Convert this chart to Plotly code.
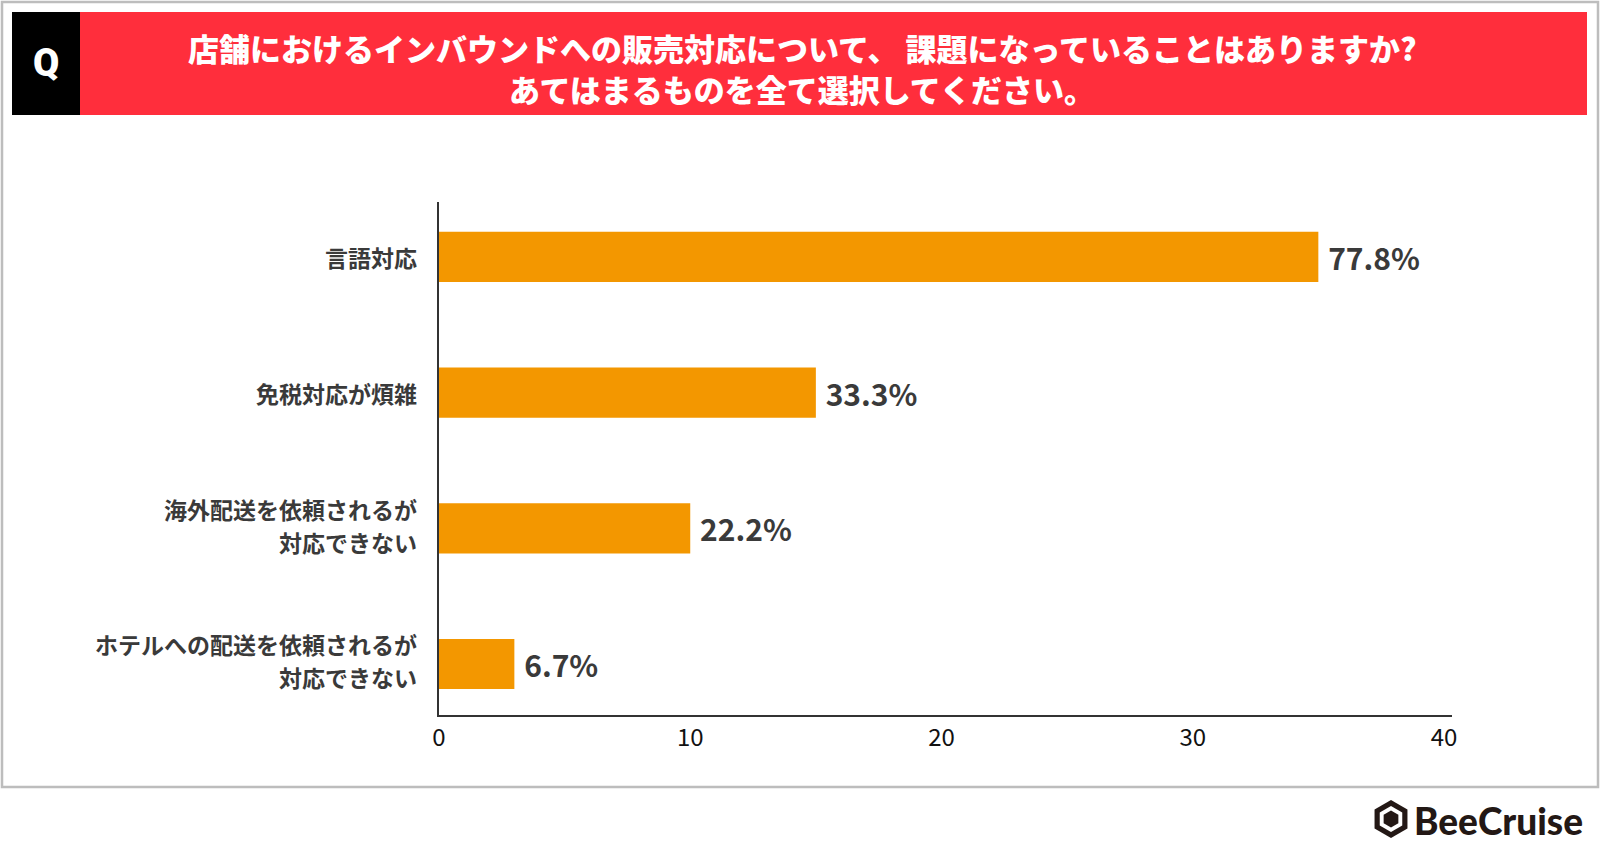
import math
import plotly.graph_objects as go

# ---- data ----
categories = [
    "言語対応",
    "免税対応が煩雑",
    "海外配送を依頼されるが<br>対応できない",
    "ホテルへの配送を依頼されるが<br>対応できない",
]
counts = [35, 15, 10, 3]
pct_labels = ["77.8%", "33.3%", "22.2%", "6.7%"]
x_ticks = [0, 10, 20, 30, 40]

title_lines = [
    "店舗におけるインバウンドへの販売対応について、 課題になっていることはありますか?",
    "あてはまるものを全て選択してください。",
]

# ---- layout geometry (pixels) ----
FW, FH = 1600, 853
L, R, T, B = 439, 1452, 202, 715
PW, PH = R - L, B - T

def px(x):
    return (x - L) / PW

def py(y):
    return (B - y) / PH

FONT = "Noto Sans CJK JP"
ORANGE = "#F39700"

fig = go.Figure()
fig.add_trace(go.Bar(
    y=categories,
    x=counts,
    orientation="h",
    marker=dict(color=ORANGE, line=dict(width=0)),
    width=0.37,
    text=[" " + t for t in pct_labels],
    textposition="outside",
    constraintext="none",
    cliponaxis=False,
    textfont=dict(family=FONT, size=30, color="#3a3a3a", weight=700),
    hoverinfo="skip",
))

shapes = []
shapes.append(dict(type="rect", xref="paper", yref="paper",
                   x0=px(2), x1=px(1598), y0=py(787), y1=py(2),
                   line=dict(color="#BDBDBD", width=2.5), fillcolor="rgba(0,0,0,0)", layer="below"))
shapes.append(dict(type="rect", xref="paper", yref="paper",
                   x0=px(80), x1=px(1587), y0=py(115), y1=py(12),
                   line=dict(width=0), fillcolor="#FF2E3C", layer="below"))
shapes.append(dict(type="rect", xref="paper", yref="paper",
                   x0=px(12), x1=px(80), y0=py(115), y1=py(12),
                   line=dict(width=0), fillcolor="#000000", layer="below"))

def hexpath(cx, cy, r):
    pts = []
    for k in range(6):
        a = math.radians(90 + 60 * k)
        pts.append((px(cx + r * math.cos(a)), py(cy - r * math.sin(a))))
    return "M " + " L ".join(f"{a:.5f},{b:.5f}" for a, b in pts) + " Z"

cx, cy = 1391, 819
shapes.append(dict(type="path", xref="paper", yref="paper", path=hexpath(cx, cy, 19),
                   fillcolor="#231815", line=dict(width=0)))
shapes.append(dict(type="path", xref="paper", yref="paper", path=hexpath(cx, cy, 13),
                   fillcolor="#FFFFFF", line=dict(width=0)))
shapes.append(dict(type="path", xref="paper", yref="paper", path=hexpath(cx, cy, 8.5),
                   fillcolor="#231815", line=dict(width=0)))

annotations = []
for i, line in enumerate(title_lines):
    annotations.append(dict(text=line, xref="paper", yref="paper", x=px(802), y=py(48 + 41 * i),
                            xanchor="center", yanchor="middle", showarrow=False,
                            font=dict(family=FONT, size=31, color="#FFFFFF", weight=900)))
annotations.append(dict(text="Q", xref="paper", yref="paper", x=px(46), y=py(63),
                        xanchor="center", yanchor="middle", showarrow=False,
                        font=dict(family="Roboto", size=38, color="#FFFFFF", weight=900)))
annotations.append(dict(text="BeeCruise", xref="paper", yref="paper", x=px(1412), y=py(820),
                        xanchor="left", yanchor="middle", showarrow=False,
                        font=dict(family="Lato", size=37, color="#231815", weight=900)))

# category labels (one annotation per line, anchored to the category)
for cat in categories:
    parts = cat.split("<br>")
    shifts = [-0.5] if len(parts) == 1 else [19.5, -13.5]
    for part, s in zip(parts, shifts):
        annotations.append(dict(text=part, xref="paper", yref="y", x=px(419), y=cat,
                                xanchor="right", yanchor="middle", yshift=s, showarrow=False,
                                font=dict(family=FONT, size=23, color="#3a3a3a", weight=700)))

fig.update_layout(
    width=FW, height=FH,
    margin=dict(l=L, r=FW - R, t=T, b=FH - B, pad=0),
    paper_bgcolor="white", plot_bgcolor="white",
    showlegend=False,
    shapes=shapes,
    annotations=annotations,
    xaxis=dict(
        range=[0, 40.32],
        tickvals=x_ticks,
        ticktext=[str(v) for v in x_ticks],
        showgrid=False, zeroline=False,
        showline=True, linecolor="#333333", linewidth=2,
        ticks="", ticklabelstandoff=0,
        tickfont=dict(family=FONT, size=24, color="#111111"),
    ),
    yaxis=dict(
        categoryorder="array", categoryarray=categories,
        range=[3.376, -0.405],
        showgrid=False, zeroline=False,
        showline=True, linecolor="#333333", linewidth=2,
        ticks="", showticklabels=False,
    ),
)

fig.write_html("out.html", config={"displayModeBar": False},
               post_script="document.body.style.margin='0';document.body.style.overflow='hidden';")
